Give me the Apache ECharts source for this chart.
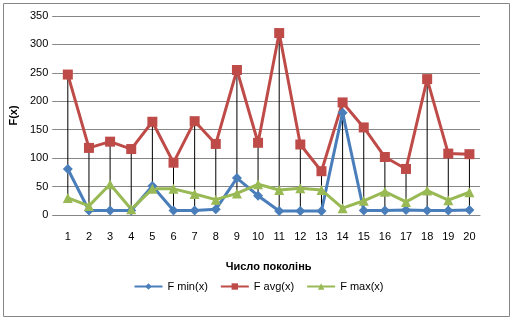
<!DOCTYPE html>
<html>
<head>
<meta charset="utf-8">
<script src="https://cdn.jsdelivr.net/npm/echarts@6/dist/echarts.min.js"></script>
<style>
  html, body { margin: 0; padding: 0; background: #fff; }
  #chart { width: 517px; height: 323px; }
</style>
</head>
<body>
<div id="chart"></div>
<script>
// Generation numbers along the x axis
const generations = ['1','2','3','4','5','6','7','8','9','10','11','12','13','14','15','16','17','18','19','20'];

// Fitness per generation
const fMin = [81, 8, 8, 8, 51, 8, 8, 10, 65, 34, 7, 7, 7, 180, 8, 8, 9, 8, 8, 9];
const fAvg = [247, 118, 129, 116, 164, 92, 165, 125, 255, 127, 320, 124, 77, 198, 154, 102, 81, 239, 108, 107];
const fMax = [30, 16, 54, 10, 46, 46, 37, 27, 38, 54, 44, 47, 44, 12, 25, 41, 23, 43, 26, 40];

// Y axis range
const yMin = 0, yMax = 350, yStep = 50;

const seriesNames = ['F min(x)', 'F avg(x)', 'F max(x)'];

// High-low span per generation: from the lowest to the highest of the three values
const spans = generations.map((g, i) => {
  const v = [fMin[i], fAvg[i], fMax[i]];
  return [i, Math.min(...v), Math.max(...v)];
});

const font = 'Liberation Sans, Arial, sans-serif';
const chart = echarts.init(document.getElementById('chart'));

chart.setOption({
  animation: false,
  backgroundColor: '#fff',
  textStyle: { fontFamily: font },
  grid: { left: 56, right: 37, top: 16, bottom: 108, containLabel: false },
  graphic: [{
    type: 'rect',
    shape: { x: 3.5, y: 3.5, width: 506, height: 313 },
    style: { fill: 'none', stroke: '#868686', lineWidth: 1 },
    silent: true
  }],
  legend: {
    bottom: 26,
    left: 'center',
    itemWidth: 28,
    itemHeight: 8,
    itemGap: 12,
    textStyle: { fontSize: 11, color: '#000', fontFamily: font },
    data: seriesNames
  },
  xAxis: {
    type: 'category',
    data: generations,
    boundaryGap: true,
    axisLine: { lineStyle: { color: '#868686', width: 1 } },
    axisTick: { show: false },
    axisLabel: { color: '#000', fontSize: 11, margin: 16, fontFamily: font },
    name: 'Число поколінь',
    nameLocation: 'middle',
    nameGap: 46,
    nameTextStyle: { fontWeight: 'bold', fontSize: 11, color: '#000', fontFamily: font }
  },
  yAxis: {
    type: 'value',
    min: yMin, max: yMax, interval: yStep,
    axisLine: { show: false },
    axisTick: { show: true, length: 5, lineStyle: { color: '#868686' } },
    splitLine: { lineStyle: { color: '#868686', width: 1 } },
    axisLabel: { color: '#000', fontSize: 11, margin: 9, fontFamily: font },
    name: 'F(x)',
    nameLocation: 'middle',
    nameGap: 33,
    nameRotate: 90,
    nameTextStyle: { fontWeight: 'bold', fontSize: 11, color: '#000', fontFamily: font }
  },
  series: [
    {
      type: 'custom',
      name: 'high-low',
      z: 1,
      silent: true,
      data: spans,
      renderItem: (params, api) => {
        const top = api.coord([api.value(0), api.value(2)]);
        const bot = api.coord([api.value(0), api.value(1)]);
        return {
          type: 'line',
          shape: { x1: top[0], y1: top[1], x2: bot[0], y2: bot[1] },
          style: { stroke: '#000', lineWidth: 1 }
        };
      }
    },
    {
      name: seriesNames[0], type: 'line', data: fMin, z: 3,
      symbol: 'diamond', symbolSize: 10,
      itemStyle: { color: '#4A7EBB' },
      lineStyle: { color: '#4A7EBB', width: 3 }
    },
    {
      name: seriesNames[1], type: 'line', data: fAvg, z: 3,
      symbol: 'rect', symbolSize: 10,
      itemStyle: { color: '#BE4B48' },
      lineStyle: { color: '#BE4B48', width: 3 }
    },
    {
      name: seriesNames[2], type: 'line', data: fMax, z: 3,
      symbol: 'triangle', symbolSize: 10,
      itemStyle: { color: '#98B954' },
      lineStyle: { color: '#98B954', width: 3 }
    }
  ]
});
</script>
</body>
</html>
